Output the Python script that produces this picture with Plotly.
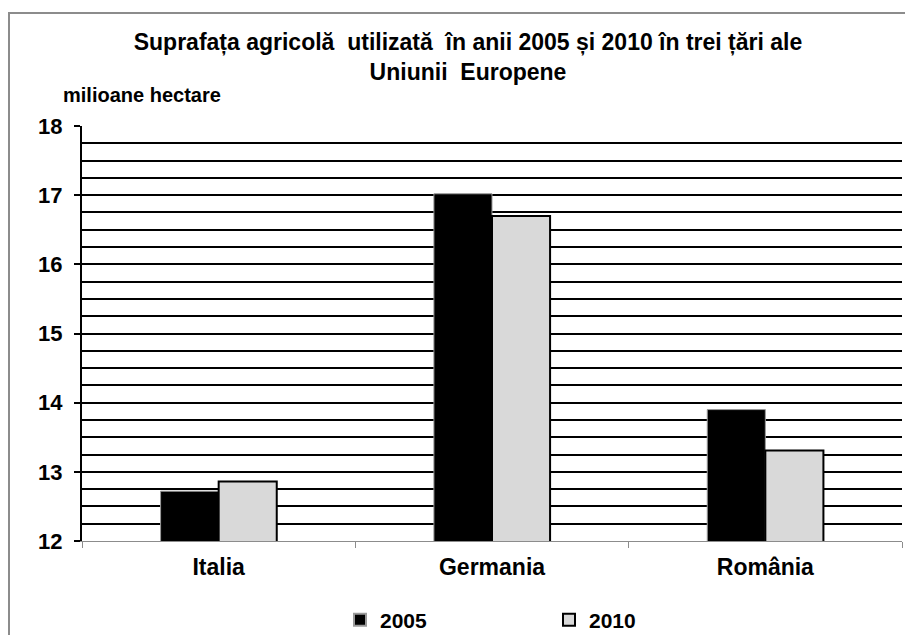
import plotly.graph_objects as go

categories = ["Italia", "Germania", "România"]
values_2005 = [12.72, 17.02, 13.90]
values_2010 = [12.86, 16.70, 13.31]
series_names = ["2005", "2010"]
y_tick_values = [12, 13, 14, 15, 16, 17, 18]

FONT = "Liberation Sans, Arial, sans-serif"

fig = go.Figure()
fig.add_trace(go.Bar(
    x=categories, y=values_2005, name="<b>%s</b>" % series_names[0],
    marker=dict(color="#000000", line=dict(color="#9a9a9a", width=1)),
))
fig.add_trace(go.Bar(
    x=categories, y=values_2010, name="<b>%s</b>" % series_names[1],
    marker=dict(color="#d9d9d9", line=dict(color="#000000", width=2)),
))

# The page body has an 8px margin, so the figure is sized to fit the window.
OFF = 8
W, H = 913 - OFF, 635 - OFF
L, R, T, B = 82 - OFF, 11, 126 - OFF, 94
pw, ph = W - L - R, H - T - B


def px(xs):  # screen x -> paper x
    return (xs - OFF - L) / pw


def py(ys):  # screen y -> paper y
    return 1 - (ys - OFF - T) / ph


fig.update_layout(
    width=W, height=H,
    margin=dict(l=L, r=R, t=T, b=B, pad=0, autoexpand=False),
    paper_bgcolor="white", plot_bgcolor="white",
    barmode="group", bargap=0.575, bargroupgap=0,
    font=dict(family=FONT, color="#000000"),
    title=dict(
        text="<b>Suprafața agricolă  utilizată  în anii 2005 și 2010 în trei țări ale<br>Uniunii  Europene</b>",
        x=(468 - OFF) / W, xanchor="center", xref="container",
        y=1 - 42 / H, yanchor="top", yref="container",
        font=dict(size=23, family=FONT),
    ),
    legend=dict(
        orientation="h", xref="container", yref="container",
        x=(340 - OFF) / W, xanchor="left",
        y=1 - (620 - OFF) / H, yanchor="middle",
        font=dict(size=21, family=FONT),
        entrywidth=164, entrywidthmode="pixels",
        itemsizing="constant", traceorder="normal",
        bgcolor="rgba(0,0,0,0)",
    ),
    showlegend=True,
)

fig.update_yaxes(
    range=[12, 18], tickvals=y_tick_values,
    ticktext=["<b>%d</b>" % v for v in y_tick_values],
    tickfont=dict(size=22, family=FONT),
    showline=True, linecolor="#000000", linewidth=2,
    ticks="outside", ticklen=6, tickwidth=2, tickcolor="#000000",
    ticklabelstandoff=7, automargin=False,
    showgrid=True, gridcolor="#000000", gridwidth=2,
    minor=dict(dtick=0.25, showgrid=True, gridcolor="#000000", gridwidth=2, ticks=""),
    zeroline=False, fixedrange=True,
)
fig.update_xaxes(
    tickvals=categories, ticktext=["<b>%s</b>" % c for c in categories],
    tickfont=dict(size=23, family=FONT),
    showline=True, linecolor="#8c8c8c", linewidth=1,
    ticks="outside", tickson="boundaries", ticklen=6, tickcolor="#8c8c8c", tickwidth=1,
    ticklabelstandoff=5, automargin=False,
    showgrid=False, zeroline=False,
)

fig.add_annotation(
    text="<b>milioane hectare</b>", xref="paper", yref="paper",
    x=px(61), xanchor="left", y=py(95), yanchor="middle",
    showarrow=False, font=dict(size=20, family=FONT),
)

# outer frame of the chart area (extends past the picture's right/bottom edge)
fig.add_shape(
    type="rect", xref="paper", yref="paper",
    x0=px(9), x1=px(935),
    y0=py(660), y1=py(13),
    line=dict(color="#8c8c8c", width=2), fillcolor="rgba(0,0,0,0)", layer="above",
)

fig.write_html("out.html")
